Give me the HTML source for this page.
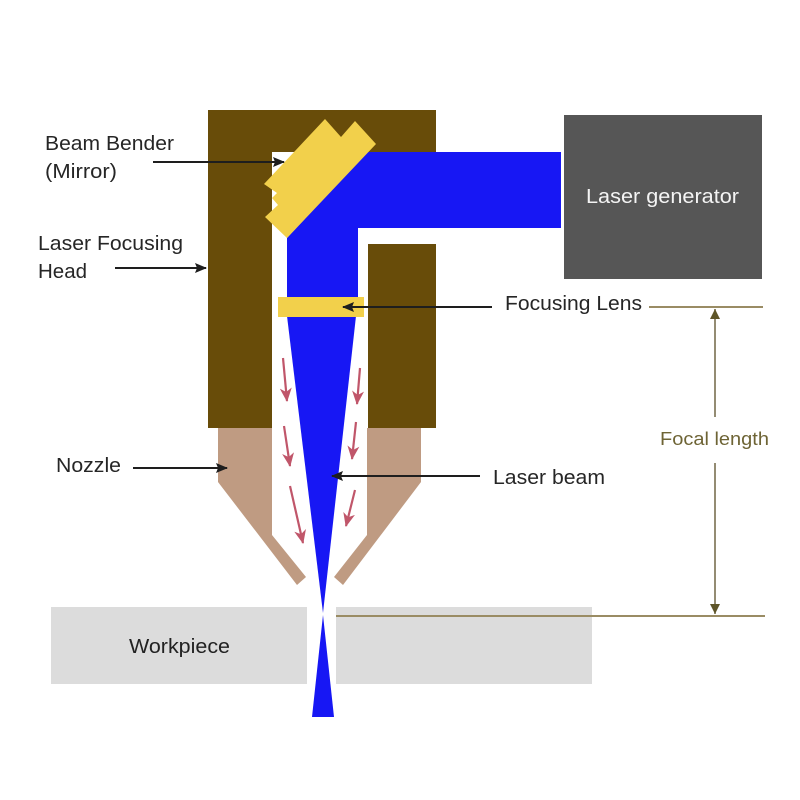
<!DOCTYPE html>
<html>
<head>
<meta charset="utf-8">
<style>
html,body{margin:0;padding:0;background:#fff;}
svg{display:block;}
text{font-family:"Liberation Sans",sans-serif;}
</style>
</head>
<body>
<svg width="800" height="800" viewBox="0 0 800 800" xmlns="http://www.w3.org/2000/svg">
<defs>
  <marker id="blk" markerWidth="12" markerHeight="10" refX="11" refY="5" orient="auto" markerUnits="userSpaceOnUse">
    <path d="M0,0 L12,5 L0,10 L2,5 z" fill="#1e1e1e"/>
  </marker>
  <marker id="red" markerWidth="14" markerHeight="12" refX="13" refY="6" orient="auto" markerUnits="userSpaceOnUse">
    <path d="M0,0 L14,6 L0,12 L4,6 z" fill="#c0566a"/>
  </marker>
  <marker id="ol" markerWidth="10" markerHeight="10" refX="10" refY="5" orient="auto" markerUnits="userSpaceOnUse">
    <path d="M0,0 L10,5 L0,10 z" fill="#5e5528"/>
  </marker>
</defs>

<rect x="0" y="0" width="800" height="800" fill="#fff"/>

<!-- laser head brown -->
<rect x="208" y="110" width="228" height="42" fill="#684c09"/>
<rect x="208" y="110" width="64" height="318" fill="#684c09"/>
<rect x="368" y="244" width="68" height="184" fill="#684c09"/>

<!-- laser generator -->
<rect x="564" y="115" width="198" height="164" fill="#565656"/>
<text x="586" y="203" font-size="20" fill="#f4f4f4" textLength="153" lengthAdjust="spacingAndGlyphs">Laser generator</text>

<!-- blue beam -->
<polygon points="287,238 367,152 561,152 561,228 358,228 358,298 287,298" fill="#1717f4"/>
<polygon points="287,316 356,316 323,613" fill="#1717f4"/>
<polygon points="323,615 312,717 334,717" fill="#1717f4"/>

<!-- mirror -->
<polygon points="325,119 341,137 355,121 376,144 287,238 265,217 278,205 272,198 277,193 264,184" fill="#f2d04b"/>

<!-- lens -->
<rect x="278" y="297" width="86" height="20" fill="#f2d04b"/>

<!-- nozzle -->
<polygon points="218,428 272,428 272,535 306,577 297,585 218,482" fill="#bf9b82"/>
<polygon points="367,428 421,428 421,482 343,585 334,577 367,535" fill="#bf9b82"/>

<!-- gas flow arrows -->
<g stroke="#c0566a" stroke-width="2.2" marker-end="url(#red)">
  <line x1="283" y1="358" x2="287" y2="401"/>
  <line x1="284" y1="426" x2="290" y2="466"/>
  <line x1="290" y1="486" x2="303" y2="543"/>
  <line x1="360" y1="368" x2="357" y2="404"/>
  <line x1="356" y1="422" x2="352" y2="459"/>
  <line x1="355" y1="490" x2="346" y2="526"/>
</g>

<!-- workpiece -->
<rect x="51" y="607" width="256" height="77" fill="#dcdcdc"/>
<rect x="336" y="607" width="256" height="77" fill="#dcdcdc"/>
<text x="129" y="653" font-size="20" fill="#222" textLength="101" lengthAdjust="spacingAndGlyphs">Workpiece</text>

<!-- focal length -->
<g stroke="#9a8c64" stroke-width="2">
  <line x1="649" y1="307" x2="763" y2="307"/>
  <line x1="336" y1="616" x2="765" y2="616"/>
</g>
<g stroke="#7a7050" stroke-width="1.6">
  <line x1="715" y1="417" x2="715" y2="309" marker-end="url(#ol)"/>
  <line x1="715" y1="463" x2="715" y2="614" marker-end="url(#ol)"/>
</g>
<text x="660" y="445" font-size="18" fill="#6e6435" textLength="109" lengthAdjust="spacingAndGlyphs">Focal length</text>

<!-- labels -->
<g font-size="20" fill="#262626">
  <text x="45" y="150" textLength="129" lengthAdjust="spacingAndGlyphs">Beam Bender</text>
  <text x="45" y="178" textLength="72" lengthAdjust="spacingAndGlyphs">(Mirror)</text>
  <text x="38" y="250" textLength="145" lengthAdjust="spacingAndGlyphs">Laser Focusing</text>
  <text x="38" y="278" textLength="49" lengthAdjust="spacingAndGlyphs">Head</text>
  <text x="56" y="472" textLength="65" lengthAdjust="spacingAndGlyphs">Nozzle</text>
  <text x="505" y="310" textLength="137" lengthAdjust="spacingAndGlyphs">Focusing Lens</text>
  <text x="493" y="484" textLength="112" lengthAdjust="spacingAndGlyphs">Laser beam</text>
</g>

<!-- label arrows -->
<g stroke="#1e1e1e" stroke-width="2" marker-end="url(#blk)">
  <line x1="153" y1="162" x2="284" y2="162"/>
  <line x1="115" y1="268" x2="206" y2="268"/>
  <line x1="133" y1="468" x2="227" y2="468"/>
  <line x1="492" y1="307" x2="343" y2="307"/>
  <line x1="480" y1="476" x2="332" y2="476"/>
</g>
</svg>
</body>
</html>
